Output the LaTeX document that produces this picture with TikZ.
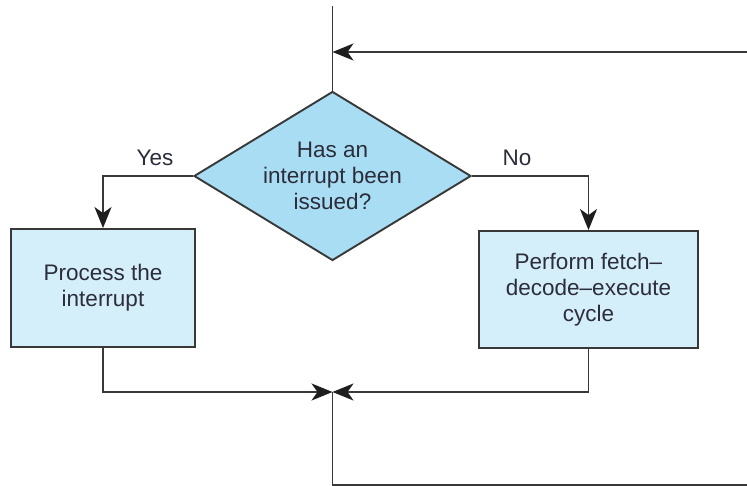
\documentclass[tikz,border=0pt]{standalone}
\usepackage{fontspec}
\setmainfont{Liberation Sans}
\usetikzlibrary{shapes.geometric,arrows.meta}
\definecolor{linegrey}{HTML}{383838}
\definecolor{tipcol}{HTML}{1E1E1E}
\definecolor{decfill}{HTML}{A9DDF3}
\definecolor{boxfill}{HTML}{D5EFFA}
\definecolor{txtcol}{HTML}{2B2D3A}
\begin{document}
\begin{tikzpicture}[x=1pt,y=-1pt,
  flow/.style={draw=linegrey, line width=1.9pt},
  arr/.style={flow, -{Stealth[length=21pt,width=17pt,inset=6pt,color=tipcol]}},
  txtstyle/.style={text=txtcol, font=\fontsize{22.5}{26}\selectfont, align=center},
  decision/.style={txtstyle, diamond, draw=linegrey, line width=1.9pt, fill=decfill,
    minimum width=277pt, minimum height=169pt, aspect=1.64, inner sep=0pt},
  stepbox/.style={txtstyle, rectangle, draw=linegrey, line width=1.9pt, fill=boxfill, inner sep=0pt},
  branchlabel/.style={text=txtcol, font=\fontsize{22.5}{26}\selectfont, inner sep=0pt}
  ]
  % canvas
  \fill[white] (0,0) rectangle (747,486);
  \useasboundingbox (0,0) rectangle (747,486);

  % decision and the two actions
  \node[decision] (dec) at (332.5,176) {Has an\\interrupt been\\issued?};
  \node[stepbox, minimum width=184pt, minimum height=118pt] (proc) at (103,288) {Process the\\interrupt};
  \node[stepbox, minimum width=219pt, minimum height=117pt] (fde) at (588.5,289.5) {Perform fetch–\\decode–execute\\cycle};

  % branch labels
  \node[branchlabel] (yes) at (155,158) {Yes};
  \node[branchlabel] (no) at (517,158) {No};

  % loop points
  \coordinate (entry) at (332.5,6);
  \coordinate (loopin) at (747,52);
  \coordinate (loopmeet) at (332.5,52);
  \coordinate (join) at (332.5,392);
  \coordinate (loopbottom) at (332.5,485);
  \coordinate (loopout) at (747,485);

  % connectors
  \draw[flow] (entry) -- (dec.north);
  \draw[arr] (loopin) -- (loopmeet);
  \draw[arr] (dec.west) -| (proc.north);
  \draw[arr] (dec.east) -| (fde.north);
  \draw[arr] (proc.south) |- (join);
  \draw[arr] (fde.south) |- (join);
  \draw[flow] (join) -- (loopbottom) -- (loopout);
\end{tikzpicture}
\end{document}
